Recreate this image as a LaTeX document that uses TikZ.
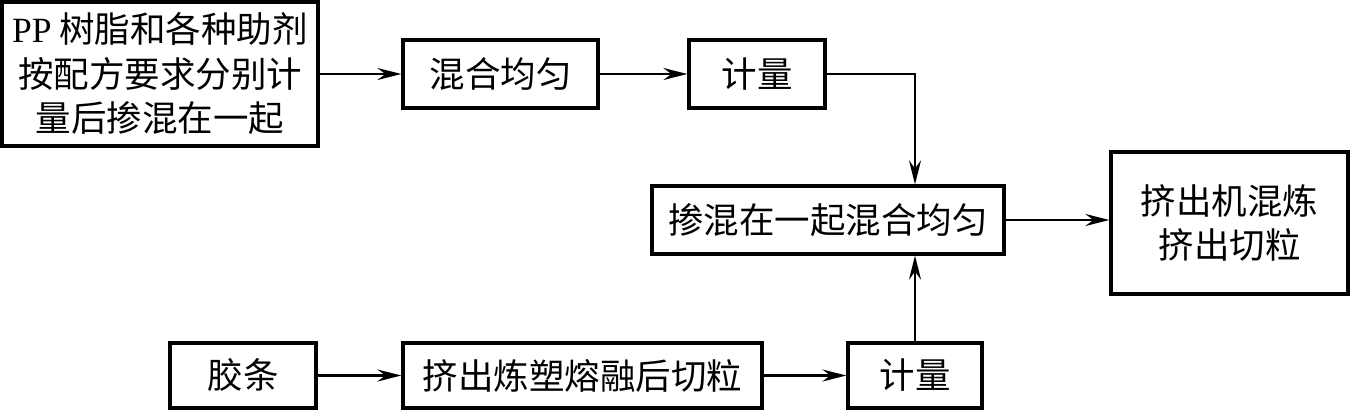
\documentclass[tikz,border=0pt]{standalone}
\usepackage{fontspec}
\setmainfont{Liberation Serif}
\newfontfamily\cjk{Noto Sans CJK SC}
\usetikzlibrary{arrows.meta}
\begin{document}
\begin{tikzpicture}[x=1pt,y=-1pt,
 box/.style={draw,line width=3.2pt,inner sep=0pt,font=\cjk\fontsize{35.5}{44.5}\selectfont,align=center},
 conn/.style={line width=2.4pt,-{Stealth[length=24pt,width=12pt,inset=8pt]}}]
\useasboundingbox[fill=white] (0,0) rectangle (1351,412);
\node[box,minimum width=316pt,minimum height=144pt] (a) at (160,74) {{\rmfamily PP} 树脂和各种助剂\\按配方要求分别计\\量后掺混在一起};
\node[box,minimum width=195pt,minimum height=68pt] (b) at (500.5,74) {混合均匀};
\node[box,minimum width=136pt,minimum height=68pt] (c) at (757,74) {计量};
\node[box,minimum width=352pt,minimum height=68pt] (d) at (828,220) {掺混在一起混合均匀};
\node[box,minimum width=237pt,minimum height=142pt] (e) at (1229.5,223) {挤出机混炼\\挤出切粒};
\node[box,minimum width=146pt,minimum height=65pt] (f) at (243,375.5) {胶条};
\node[box,minimum width=359pt,minimum height=65pt] (g) at (582.5,375.5) {挤出炼塑熔融后切粒};
\node[box,minimum width=134pt,minimum height=65pt] (h) at (915,375.5) {计量};
\draw[conn] (a.east |- b.west) -- (b.west);
\draw[conn] (b.east) -- (c.west);
\draw[conn] (c.east) -| (h.north |- d.north);
\draw[conn] (h.north) -- (h.north |- d.south);
\draw[conn] (d.east) -- (d.east -| e.west);
\draw[conn] (f.east) -- (g.west);
\draw[conn] (g.east) -- (h.west);
\end{tikzpicture}
\end{document}
